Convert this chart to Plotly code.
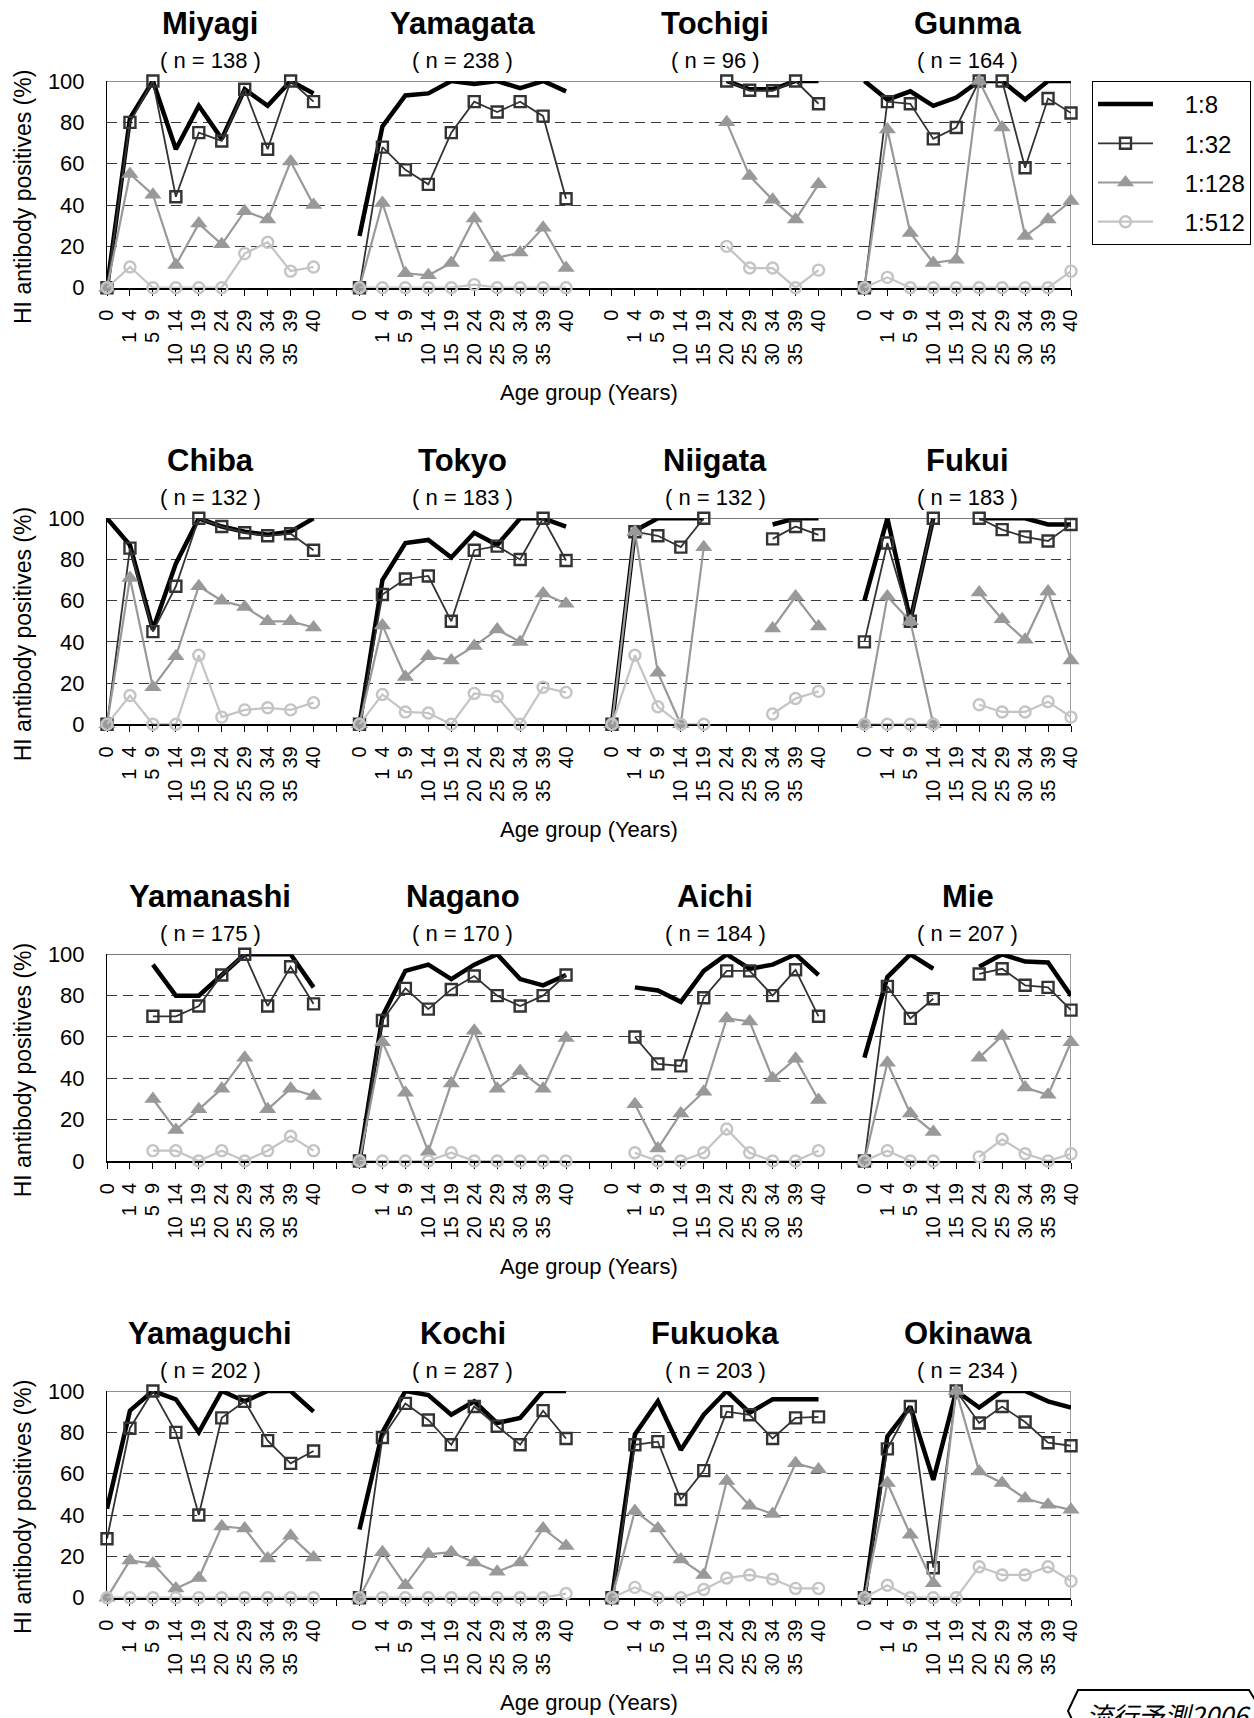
import plotly.graph_objects as go

N = None

prefectures = ["Miyagi", "Yamagata", "Tochigi", "Gunma",
               "Chiba", "Tokyo", "Niigata", "Fukui",
               "Yamanashi", "Nagano", "Aichi", "Mie",
               "Yamaguchi", "Kochi", "Fukuoka", "Okinawa"]
sample_sizes = [138, 238, 96, 164, 132, 183, 132, 183,
                175, 170, 184, 207, 202, 287, 203, 234]
age_groups = ["0", "1-4", "5-9", "10-14", "15-19", "20-24",
              "25-29", "30-34", "35-39", "40-"]
age_tick_text = ["0", "1\u00a0\u00a04", "5\u00a0\u00a09", "10\u00a0\u00a014", "15\u00a0\u00a019",
                 "20\u00a0\u00a024", "25\u00a0\u00a029", "30\u00a0\u00a034", "35\u00a0\u00a039", "40"]

titer_1_8 = [
    [0, 82, 100, 67, 88, 72, 96, 88, 100, 94],
    [25, 78, 93, 94, 100, 98.5, 100, 96.5, 100, 95],
    [N, N, N, N, N, 100, 96, 96, 100, 100],
    [100, 91, 95, 88, 92, 100, 100, 91, 100, 100],
    [100, 87, 46, 78, 100, 96, 93.5, 92, 93.5, 100],
    [0, 70, 88, 89.5, 81, 93, 87, 100, 100, 96],
    [0, 94, 100, 100, 100, N, N, 97, 100, 100],
    [60, 100, 50.5, 100, N, 100, 100, 100, 97, 97],
    [N, N, 95, 80, 80, 90, 100, 100, 100, 84],
    [0, 70, 92, 95, 88, 95, 100, 88, 85, 90],
    [N, 84, 82.5, 77, 92, 100, 93, 95, 100, 90],
    [50, 89, 100, 93, N, 94, 100, 96.5, 96, 80],
    [43, 90.5, 100, 96, 80, 100, 95, 100, 100, 90],
    [33, 80, 100, 98, 88.5, 95, 84.5, 87, 100, 100],
    [0, 79, 95, 71.5, 88.5, 100, 89.5, 96, 96, 96],
    [0, 78, 92.5, 57, 100, 92, 100, 100, 95, 92],
]
titer_1_32 = [
    [0, 80, 100, 44, 75, 71, 96, 67, 100, 90],
    [0, 68, 57, 50, 75, 90, 85, 90, 83, 43],
    [N, N, N, N, N, 100, 95.5, 95.3, 100, 89],
    [0, 90, 89, 72, 77.5, 100, 100, 58, 91.5, 84.5],
    [0, 85.5, 45, 67, 100, 96, 93, 91.5, 92.5, 84.5],
    [0, 63, 70.5, 72, 50, 84.5, 86.5, 80, 100, 79.5],
    [0, 93.5, 91.5, 86, 100, N, N, 90, 96, 92],
    [40, 88, 50, 100, N, 100, 94.5, 91, 89, 97],
    [N, N, 70, 70, 75, 90, 100, 75, 94, 76],
    [0, 68, 83.5, 73.5, 83, 89.5, 80, 75, 80, 90],
    [N, 60, 47, 46, 79, 92, 92, 80, 92.5, 70],
    [0, 84.5, 69, 78.5, N, 90.5, 93, 85, 84, 73],
    [28.5, 82, 100, 80, 40, 87, 95, 76, 65, 71],
    [0, 77.5, 94, 86, 74, 92.5, 83, 74, 90.5, 77],
    [0, 74, 75.5, 47.5, 61.5, 90, 88.5, 77, 87, 87.5],
    [0, 72, 92.5, 14.5, 100, 84.5, 92.5, 85, 75, 73.5],
]
titer_1_128 = [
    [0, 55, 45, 11, 31, 21, 37, 33, 61, 40],
    [0, 41, 7, 6, 12, 33.5, 14.5, 17, 29, 9.5],
    [N, N, N, N, N, 80, 54, 42.5, 33, 50],
    [0, 76.5, 26.5, 12, 13.5, 100, 77.5, 25, 33, 42],
    [0, 71, 18, 33, 67, 60, 57, 50, 50, 47],
    [0, 48, 23, 33, 31, 38, 46, 40, 63.5, 58.5],
    [0, 93.5, 25, 0, 86, N, N, 46.5, 62, 47.5],
    [0, 62, 50, 0, N, 64, 51, 41, 64.5, 31],
    [N, N, 30, 15, 25, 35, 50, 25, 35, 31.5],
    [0, 57.5, 33, 4.5, 37.5, 63, 35, 43.5, 35, 59.5],
    [N, 27.5, 6, 23, 33.5, 69, 67.5, 40, 49.5, 29.5],
    [0, 47.5, 23, 14, N, 50, 60.5, 35.5, 32, 57.5],
    [0, 18, 16.5, 4.5, 9.5, 34.5, 33.5, 19, 30, 19.5],
    [0, 22, 6, 21, 22, 17, 12.5, 17, 33.5, 25],
    [0, 42, 33.5, 18.5, 11, 56.5, 44.5, 40.5, 65, 62],
    [0, 55.5, 30.5, 7, 100, 61, 55.5, 48, 45, 42.5],
]
titer_1_512 = [
    [0, 10, 0, 0, 0, 0, 16.5, 22, 8, 10],
    [0, 0, 0, 0, 0, 1.5, 0, 0, 0, 0],
    [N, N, N, N, N, 20, 9.5, 9.5, 0, 8.5],
    [0, 5, 0, 0, 0, 0, 0, 0, 0, 8],
    [0, 14, 0, 0, 33.5, 3.5, 7, 8, 7, 10.5],
    [0, 14.5, 6, 5.5, 0, 15, 13.5, 0, 18, 15.5],
    [0, 33.5, 8.5, 0, 0, N, N, 5, 12.5, 16],
    [0, 0, 0, 0, N, 9.5, 6, 6, 11, 3.5],
    [N, N, 5, 5, 0, 5, 0, 5, 12, 5],
    [0, 0, 0, 0, 4, 0, 0, 0, 0, 0],
    [N, 4, 0, 0, 4, 15.5, 4, 0, 0, 5],
    [0, 5, 0, 0, N, 2, 10.5, 3.5, 0, 3.5],
    [0, 0, 0, 0, 0, 0, 0, 0, 0, 0],
    [0, 0, 0, 0, 0, 0, 0, 0, 0, 2],
    [0, 5, 0, 0, 4, 9.5, 11, 9, 4.5, 4.5],
    [0, 6, 0, 0, 0, 15, 11, 11, 15, 8],
]

series_names = ["1:8", "1:32", "1:128", "1:512"]
series_data = [titer_1_8, titer_1_32, titer_1_128, titer_1_512]

# ---------------- styling / layout ----------------
W, H = 1254, 1718
FONT = "Arial, Liberation Sans, sans-serif"
row_top_px = [81, 518.3, 954.3, 1391]
row_bot_px = [287.7, 724.3, 1161, 1597.7]
X_LEFT, X_RIGHT = 107, 1071
NCAT = len(age_groups)
STEP = NCAT + 1
XMAX = 3 * STEP + NCAT - 1
LEGEND_PAD = "\u00a0\u00a0\u00a0\u00a0"

styles = [
    dict(mode="lines", line=dict(color="#000000", width=4.5)),
    dict(mode="lines+markers", line=dict(color="#333333", width=1.8),
         marker=dict(symbol="square-open", size=11, color="#333333", line=dict(width=2.4, color="#333333"))),
    dict(mode="lines+markers", line=dict(color="#999999", width=2.2),
         marker=dict(symbol="triangle-up", size=15, color="#999999", line=dict(width=0))),
    dict(mode="lines+markers", line=dict(color="#c4c4c4", width=2.2),
         marker=dict(symbol="circle-open", size=11, color="#c4c4c4", line=dict(width=2.4, color="#c4c4c4"))),
]


def py(px):
    return 1 - px / H


fig = go.Figure()
tickvals, ticktext = [], []
for p in range(4):
    for c in range(NCAT):
        tickvals.append(p * STEP + c)
        ticktext.append(age_tick_text[c])
    if p < 3:
        tickvals.append(p * STEP + NCAT)
        ticktext.append("")

for r in range(4):
    xa = "x" if r == 0 else f"x{r+1}"
    ya = "y" if r == 0 else f"y{r+1}"
    for s, (name, data) in enumerate(zip(series_names, series_data)):
        xs, ys = [], []
        for p in range(4):
            k = r * 4 + p
            for c in range(NCAT):
                xs.append(p * STEP + c)
                ys.append(data[k][c])
            if p < 3:
                xs.append(p * STEP + NCAT)
                ys.append(None)
        fig.add_trace(go.Scatter(
            x=xs, y=ys, xaxis=xa, yaxis=ya, name=LEGEND_PAD + name, legendgroup=name,
            showlegend=(r == 0), connectgaps=False, cliponaxis=False,
            hoverinfo="skip", **styles[s]))

layout = dict(
    width=W, height=H, autosize=False,
    margin=dict(l=0, r=0, t=0, b=0, pad=0, autoexpand=False),
    paper_bgcolor="white", plot_bgcolor="white",
    font=dict(family=FONT, color="black"),
    showlegend=True,
    legend=dict(x=1092 / W, y=py(81), xanchor="left", yanchor="top",
                bordercolor="black", borderwidth=1, bgcolor="white",
                font=dict(size=24, family=FONT), itemwidth=55,
                traceorder="grouped", tracegroupgap=5),
)
shapes, annotations = [], []
for r in range(4):
    sfx = "" if r == 0 else str(r + 1)
    xa, ya = "x" + sfx, "y" + sfx
    layout["xaxis" + sfx] = dict(
        domain=[X_LEFT / W, X_RIGHT / W], range=[0, XMAX], anchor=ya,
        tickmode="array", tickvals=tickvals, ticktext=ticktext, tickangle=-90,
        ticks="outside", ticklen=6, tickwidth=1, tickcolor="black",
        showline=True, linecolor="black", linewidth=2, showgrid=False,
        zeroline=False, tickfont=dict(size=20, family=FONT),
        layer="below traces", ticklabelstandoff=6, fixedrange=True)
    layout["yaxis" + sfx] = dict(
        domain=[py(row_bot_px[r]), py(row_top_px[r])], range=[0, 100], anchor=xa,
        tickmode="array", tickvals=[0, 20, 40, 60, 80, 100],
        showgrid=True, gridcolor="#3a3a3a", gridwidth=1, griddash="10px,6px",
        showline=True, linecolor="black", linewidth=1, ticks="",
        zeroline=False, tickfont=dict(size=22, family=FONT),
        layer="below traces", ticklabelstandoff=17, fixedrange=True)
    # plot-area border: top and right
    shapes.append(dict(type="line", xref=xa, yref=ya, x0=0, x1=XMAX, y0=100, y1=100,
                       line=dict(color="#222222", width=1), layer="below"))
    shapes.append(dict(type="line", xref=xa, yref=ya, x0=XMAX, x1=XMAX, y0=0, y1=100,
                       line=dict(color="#808080", width=1.5), layer="below"))
    top, bot = row_top_px[r], row_bot_px[r]
    for p in range(4):
        k = r * 4 + p
        cx = p * STEP + (NCAT - 1) / 2
        annotations.append(dict(text=prefectures[k], xref=xa, yref="paper", x=cx, y=py(top - 57.6),
                                xanchor="center", yanchor="middle", showarrow=False,
                                font=dict(size=31, family=FONT, weight="bold")))
        annotations.append(dict(text=f"( n = {sample_sizes[k]} )", xref=xa, yref="paper", x=cx,
                                y=py(top - 21), xanchor="center", yanchor="middle",
                                showarrow=False, font=dict(size=22, family=FONT)))
    annotations.append(dict(text="HI antibody positives (%)", xref="paper", yref="paper",
                            x=23 / W, y=py(top + 116), xanchor="center", yanchor="middle",
                            textangle=-90, showarrow=False, font=dict(size=23, family=FONT)))
    annotations.append(dict(text="Age group (Years)", xref=xa, yref="paper", x=XMAX / 2,
                            y=py(bot + 105), xanchor="center", yanchor="middle",
                            showarrow=False, font=dict(size=22, family=FONT)))

# watermark banner (bottom right)
def P(x, y):
    return f"{x / W:.5f},{py(y):.5f}"


path = ("M " + P(1078, 1690) + " L " + P(1249, 1690) + " L " + P(1262, 1711) + " L " + P(1249, 1732)
        + " L " + P(1078, 1732) + " L " + P(1068, 1711) + " Z")
shapes.append(dict(type="path", xref="paper", yref="paper", path=path,
                   line=dict(color="black", width=2), fillcolor="white", layer="above"))
annotations.append(dict(text="流行予測2006", xref="paper", yref="paper", x=1084 / W, y=py(1694),
                        xanchor="left", yanchor="top", showarrow=False,
                        font=dict(size=26, family="Noto Sans CJK JP", style="italic", color="black")))

layout["shapes"] = shapes
layout["annotations"] = annotations
fig.update_layout(**layout)
fig.write_html("out.html")
